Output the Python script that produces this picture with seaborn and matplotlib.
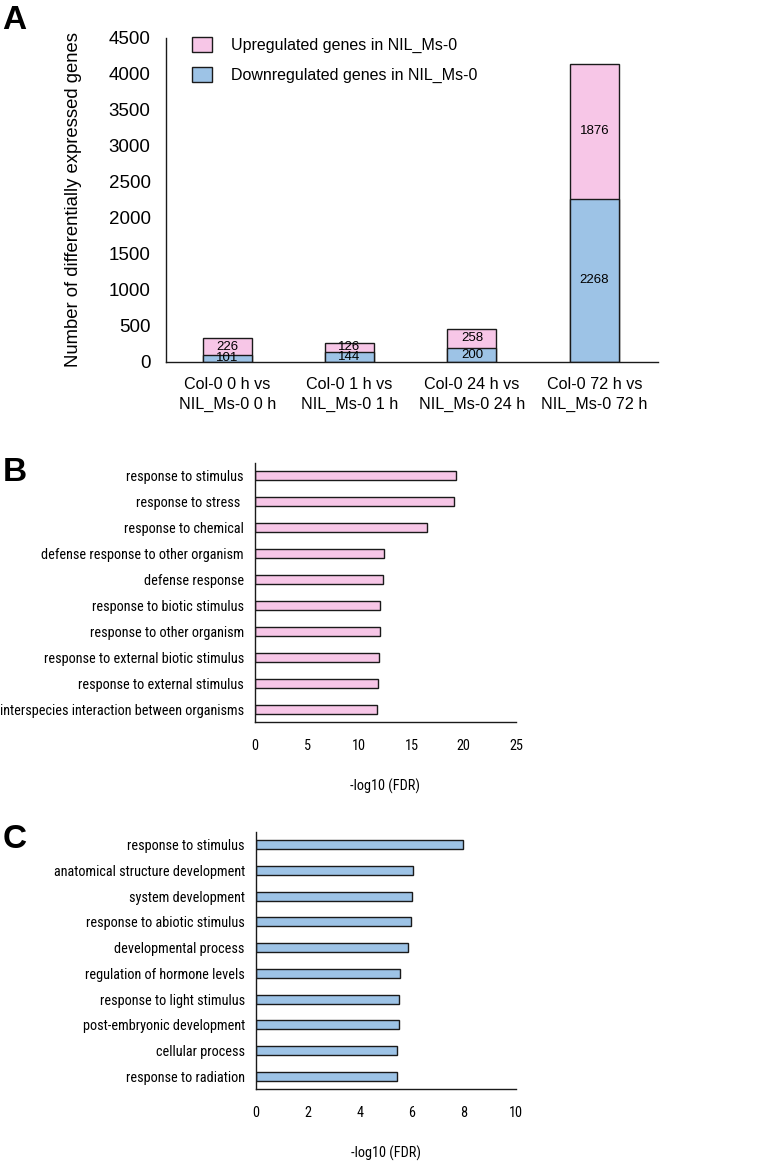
import matplotlib
matplotlib.use('Agg')
import matplotlib.pyplot as plt
from matplotlib import font_manager
from matplotlib.font_manager import FontProperties
from matplotlib.textpath import TextPath
from matplotlib.patches import Patch
import seaborn as sns

# Panel A data
comparisons = ['Col-0 0 h vs\nNIL_Ms-0 0 h', 'Col-0 1 h vs\nNIL_Ms-0 1 h',
               'Col-0 24 h vs\nNIL_Ms-0 24 h', 'Col-0 72 h vs\nNIL_Ms-0 72 h']
down_genes = [101, 144, 200, 2268]
up_genes = [226, 126, 258, 1876]
a_yticks = [0, 500, 1000, 1500, 2000, 2500, 3000, 3500, 4000, 4500]

# Panel B data (upregulated GO terms)
b_terms = ['response to stimulus', 'response to stress ', 'response to chemical',
           'defense response to other organism', 'defense response',
           'response to biotic stimulus', 'response to other organism',
           'response to external biotic stimulus', 'response to external stimulus',
           'interspecies interaction between organisms']
b_values = [19.25, 19.05, 16.45, 12.35, 12.3, 11.97, 11.94, 11.88, 11.76, 11.72]
b_xticks = [0, 5, 10, 15, 20, 25]

# Panel C data (downregulated GO terms)
c_terms = ['response to stimulus', 'anatomical structure development',
           'system development', 'response to abiotic stimulus',
           'developmental process', 'regulation of hormone levels',
           'response to light stimulus', 'post-embryonic development',
           'cellular process', 'response to radiation']
c_values = [7.97, 6.05, 6.0, 5.97, 5.85, 5.53, 5.51, 5.5, 5.44, 5.42]
c_xticks = [0, 2, 4, 6, 8, 10]

pink = '#F7C6E7'
blue = '#9DC3E6'
edge = '#1a1a1a'

sns.set_theme(style='white')
plt.rcParams['font.family'] = ['Liberation Sans', 'DejaVu Sans']
for key in ['text.color', 'axes.labelcolor', 'xtick.color', 'ytick.color']:
    plt.rcParams[key] = 'black'

# pick a condensed font for the GO term panels if one is installed
fonts = font_manager.fontManager.ttflist
names = {f.name for f in fonts}
narrow_prop = None
for fam in ['Liberation Sans Narrow', 'Arial Narrow', 'Roboto Condensed', 'Open Sans Condensed']:
    if fam in names:
        narrow_prop = FontProperties(family=fam)
        break
if narrow_prop is None:
    if any(f.name == 'DejaVu Sans' and f.stretch == 'condensed' for f in fonts):
        narrow_prop = FontProperties(family='DejaVu Sans', stretch='condensed')
    else:
        narrow_prop = FontProperties(family='Liberation Sans')

# size the condensed text so a reference label spans about 200 px
ref_w = TextPath((0, 0), 'response to external biotic stimulus', size=10,
                 prop=narrow_prop).get_extents().width * 100 / 72
go_size = min(12.5, 10 * 200 / ref_w)
narrow = dict(fontproperties=narrow_prop.copy())
narrow['fontproperties'].set_size(go_size)

fig = plt.figure(figsize=(7.6, 11.61), dpi=100)

# ---- Panel A: stacked bars ----
ax1 = fig.add_axes([0.2184, 0.6882, 0.6474, 0.2791])
totals = [d + u for d, u in zip(down_genes, up_genes)]
sns.barplot(x=comparisons, y=totals, color=pink, width=0.4, edgecolor=edge,
            linewidth=1, saturation=1, ax=ax1)
sns.barplot(x=comparisons, y=down_genes, color=blue, width=0.4, edgecolor=edge,
            linewidth=1, saturation=1, ax=ax1)
for i, (d, u) in enumerate(zip(down_genes, up_genes)):
    ax1.text(i, d / 2, str(d), ha='center', va='center', fontsize=9.5)
    ax1.text(i, d + u / 2, str(u), ha='center', va='center', fontsize=9.5)
ax1.set_ylim(0, 4500)
ax1.set_xlim(-0.5, 3.52)
ax1.set_yticks(a_yticks)
ax1.set_yticklabels([str(t) for t in a_yticks], fontsize=13.5)
ax1.tick_params(axis='both', length=0)
ax1.tick_params(axis='x', labelsize=11.6, pad=11)
ax1.tick_params(axis='y', pad=11)
plt.setp(ax1.get_xticklabels(), linespacing=1.4)
ax1.set_ylabel('Number of differentially expressed genes', fontsize=13.3, labelpad=19)
sns.despine(ax=ax1)
for s in ['left', 'bottom']:
    ax1.spines[s].set_color(edge)
    ax1.spines[s].set_linewidth(1)
handles = [Patch(facecolor=pink, edgecolor=edge, linewidth=1),
           Patch(facecolor=blue, edgecolor=edge, linewidth=1)]
fig.legend(handles, ['Upregulated genes in NIL_Ms-0', 'Downregulated genes in NIL_Ms-0'],
           loc='upper left', bbox_to_anchor=(0.2526, 0.968), frameon=False,
           fontsize=11.5, handlelength=1.25, handleheight=1.1, handletextpad=1.2,
           labelspacing=0.85, borderpad=0, borderaxespad=0)


def go_panel(ax, terms, values, color, xticks):
    sns.barplot(x=values, y=terms, orient='h', color=color, width=0.35,
                edgecolor=edge, linewidth=1, saturation=1, ax=ax)
    ax.set_ylim(len(terms) - 0.5, -0.5)
    ax.set_xlim(xticks[0], xticks[-1])
    ax.set_xticks(xticks)
    ax.set_xticklabels([str(t) for t in xticks], **narrow)
    ax.set_yticks(range(len(terms)))
    ax.set_yticklabels(terms, **narrow)
    ax.tick_params(axis='both', length=0)
    ax.tick_params(axis='y', pad=8)
    ax.tick_params(axis='x', pad=12)
    ax.set_xlabel('-log10 (FDR)', labelpad=19, **narrow)
    ax.set_ylabel('')
    sns.despine(ax=ax)
    for s in ['left', 'bottom']:
        ax.spines[s].set_color(edge)
        ax.spines[s].set_linewidth(1)


# ---- Panel B ----
ax2 = fig.add_axes([0.3355, 0.3781, 0.3434, 0.2231])
go_panel(ax2, b_terms, b_values, pink, b_xticks)

# ---- Panel C ----
ax3 = fig.add_axes([0.3368, 0.0620, 0.3421, 0.2214])
go_panel(ax3, c_terms, c_values, blue, c_xticks)

# panel letters
fig.text(0.003, 0.996, 'A', fontsize=24, fontweight='bold', va='top', ha='left')
fig.text(0.003, 0.606, 'B', fontsize=24, fontweight='bold', va='top', ha='left')
fig.text(0.003, 0.290, 'C', fontsize=24, fontweight='bold', va='top', ha='left')

fig.savefig('out.png', dpi=100)
